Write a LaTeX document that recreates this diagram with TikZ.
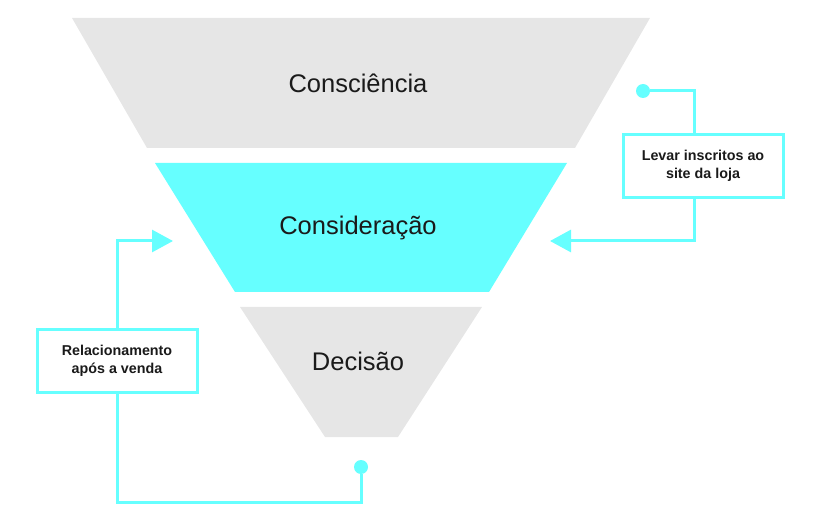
\documentclass[tikz,border=0pt]{standalone}
\usepackage{fontspec}
\setmainfont{Liberation Sans}
\usetikzlibrary{arrows.meta}
\definecolor{funnelgray}{HTML}{E6E6E6}
\definecolor{funnelcyan}{HTML}{66FFFF}
\definecolor{ink}{HTML}{1A1A1A}
\tikzset{
  stage/.style={text=ink,font=\fontsize{25.5}{30}\selectfont},
  notebox/.style={draw=funnelcyan,line width=3pt,fill=white,minimum width=160pt,
    minimum height=63pt,align=center,text=ink,font=\fontsize{14.3}{18}\selectfont\bfseries},
  dot/.style={circle,fill=funnelcyan,minimum size=14pt,inner sep=0pt},
  link/.style={draw=funnelcyan,line width=3pt},
  tip/.style={-{Triangle[length=21pt,width=22pt]}}
}
\begin{document}
\begin{tikzpicture}[x=1pt,y=-1pt]
            \useasboundingbox (0,0) rectangle (814,529);
            % funnel
            \fill[funnelgray] (72,18)--(650,18)--(575,148)--(147,148)--cycle;
            \fill[funnelcyan] (155,163)--(567,163)--(489,292)--(235,292)--cycle;
            \fill[funnelgray] (240,307)--(482,307)--(398,437)--(325,437)--cycle;
            \node[stage] (aware) at (358,83) {Consciência};
            \node[stage] (consider) at (358,228) {Consideração};
            \node[stage] (decide) at (358,361) {Decisão};
            % notes
            \node[notebox] (boxR) at (703,166) {Levar inscritos ao\\site da loja};
            \node[notebox] (boxL) at (117,361) {Relacionamento\\após a venda};
            \node[dot] (dotR) at (643,91) {};
            \node[dot] (dotL) at (361,467) {};
            \coordinate (arrR) at (550,241);
            \coordinate (arrL) at (173,241);
            \coordinate (cornerL) at (361,502);
            % links
            \draw[link] (dotR) -| ([xshift=-9pt]boxR.north);
            \draw[link,tip] ([xshift=-9pt]boxR.south) |- (arrR);
            \draw[link,tip] (boxL.north) |- (arrL);
            \draw[link] (boxL.south) |- (cornerL) -- (dotL);
        \end{tikzpicture}
\end{document}
